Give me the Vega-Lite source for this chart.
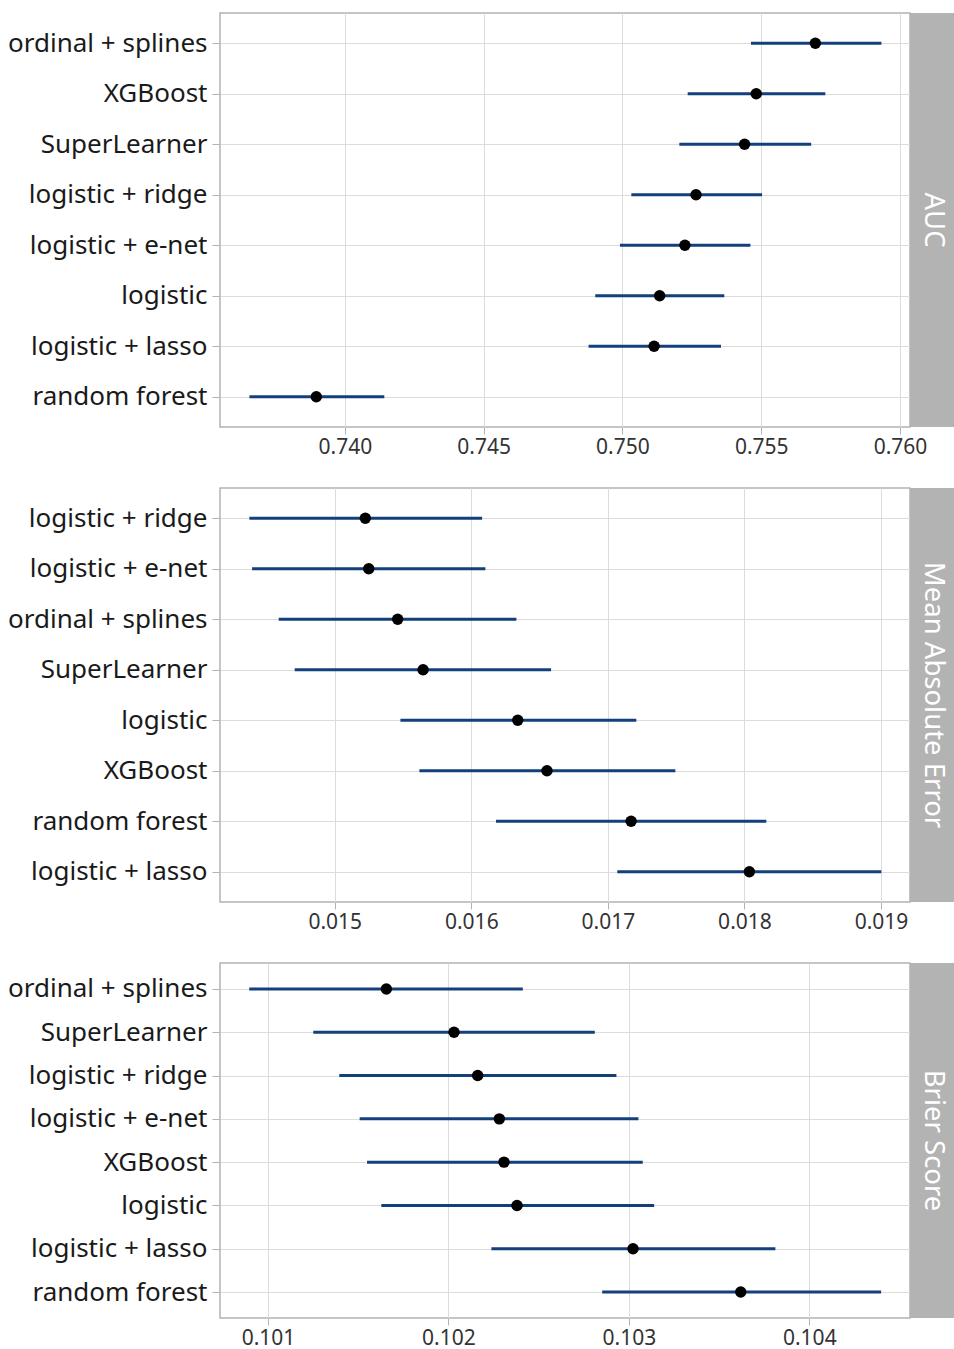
{
  "$schema": "https://vega.github.io/schema/vega-lite/v6.json",
  "padding": {"left": 6, "top": 12, "right": 0, "bottom": 0},
  "background": "white",
  "datasets": {
    "results": [
      {"metric": "AUC", "model": "ordinal + splines", "est": 0.75695, "lo": 0.75463, "hi": 0.75933},
      {"metric": "AUC", "model": "XGBoost", "est": 0.75482, "lo": 0.75235, "hi": 0.75731},
      {"metric": "AUC", "model": "SuperLearner", "est": 0.75440, "lo": 0.75205, "hi": 0.75680},
      {"metric": "AUC", "model": "logistic + ridge", "est": 0.75265, "lo": 0.75032, "hi": 0.75503},
      {"metric": "AUC", "model": "logistic + e-net", "est": 0.75225, "lo": 0.74991, "hi": 0.75461},
      {"metric": "AUC", "model": "logistic", "est": 0.75134, "lo": 0.74902, "hi": 0.75367},
      {"metric": "AUC", "model": "logistic + lasso", "est": 0.75114, "lo": 0.74878, "hi": 0.75355},
      {"metric": "AUC", "model": "random forest", "est": 0.73897, "lo": 0.73656, "hi": 0.74142},
      {"metric": "MAE", "model": "logistic + ridge", "est": 0.015224, "lo": 0.014375, "hi": 0.016079},
      {"metric": "MAE", "model": "logistic + e-net", "est": 0.015249, "lo": 0.014395, "hi": 0.016103},
      {"metric": "MAE", "model": "ordinal + splines", "est": 0.015461, "lo": 0.014590, "hi": 0.016330},
      {"metric": "MAE", "model": "SuperLearner", "est": 0.015647, "lo": 0.014707, "hi": 0.016584},
      {"metric": "MAE", "model": "logistic", "est": 0.016340, "lo": 0.015481, "hi": 0.017208},
      {"metric": "MAE", "model": "XGBoost", "est": 0.016554, "lo": 0.015620, "hi": 0.017494},
      {"metric": "MAE", "model": "random forest", "est": 0.017170, "lo": 0.016181, "hi": 0.018160},
      {"metric": "MAE", "model": "logistic + lasso", "est": 0.018036, "lo": 0.017069, "hi": 0.019002},
      {"metric": "Brier", "model": "ordinal + splines", "est": 0.101656, "lo": 0.100896, "hi": 0.102412},
      {"metric": "Brier", "model": "SuperLearner", "est": 0.102031, "lo": 0.101251, "hi": 0.102811},
      {"metric": "Brier", "model": "logistic + ridge", "est": 0.102162, "lo": 0.101395, "hi": 0.102931},
      {"metric": "Brier", "model": "logistic + e-net", "est": 0.102282, "lo": 0.101508, "hi": 0.103053},
      {"metric": "Brier", "model": "XGBoost", "est": 0.102308, "lo": 0.101549, "hi": 0.103077},
      {"metric": "Brier", "model": "logistic", "est": 0.102380, "lo": 0.101628, "hi": 0.103140},
      {"metric": "Brier", "model": "logistic + lasso", "est": 0.103023, "lo": 0.102238, "hi": 0.103812},
      {"metric": "Brier", "model": "random forest", "est": 0.103620, "lo": 0.102852, "hi": 0.104398}
    ]
  },
  "config": {
    "font": "Noto Sans",
    "view": {"stroke": "#b3b3b3", "strokeWidth": 1.5},
    "axis": {
      "domain": false,
      "grid": true,
      "gridColor": "#dcdcdc",
      "gridWidth": 1,
      "tickColor": "#b3b3b3",
      "tickSize": 7,
      "tickWidth": 1,
      "labelFont": "Noto Sans",
      "title": null
    },
    "axisX": {"labelFontSize": 21, "labelColor": "#333333", "labelPadding": 2, "minExtent": 30, "maxExtent": 30},
    "axisY": {"labelFontSize": 26, "labelColor": "#1a1a1a", "tickSize": 8, "labelPadding": 5, "minExtent": 212, "maxExtent": 212, "labelLimit": 300},
    "concat": {"spacing": 0}
  },
  "vconcat": [
    {
      "spacing": 0,
      "bounds": "flush",
      "hconcat": [
        {
          "width": 690,
          "height": 414,
          "data": {"name": "results"},
          "transform": [{"filter": "datum.metric === 'AUC'"}],
          "encoding": {
            "y": {"field": "model", "type": "nominal", "sort": ["ordinal + splines", "XGBoost", "SuperLearner", "logistic + ridge", "logistic + e-net", "logistic", "logistic + lasso", "random forest"], "scale": {"type": "point", "padding": 0.6}, "axis": {"title": null}}
          },
          "layer": [
            {"mark": {"type": "rule", "color": "#133f7b", "strokeWidth": 3}, "encoding": {"x": {"field": "lo", "type": "quantitative", "scale": {"domain": [0.7355, 0.76036], "nice": false, "zero": false}, "axis": {"values": [0.74, 0.745, 0.75, 0.755, 0.76], "format": ".3f", "title": null}}, "x2": {"field": "hi"}}},
            {"mark": {"type": "point", "filled": true, "color": "#000000", "opacity": 1, "size": 130}, "encoding": {"x": {"field": "est", "type": "quantitative"}}}
          ]
        },
        {
          "width": 46,
          "height": 414,
          "view": {"stroke": null},
          "data": {"values": [{"label": "AUC"}]},
          "layer": [
            {"mark": {"type": "rect", "color": "#b3b3b3"}},
            {"mark": {"type": "text", "angle": 90, "color": "#ffffff", "fontSize": 27.5, "align": "center", "baseline": "middle"}, "encoding": {"text": {"field": "label"}}}
          ]
        }
      ]
    },
    {
      "spacing": 0,
      "bounds": "flush",
      "hconcat": [
        {
          "width": 690,
          "height": 414,
          "data": {"name": "results"},
          "transform": [{"filter": "datum.metric === 'MAE'"}],
          "encoding": {
            "y": {"field": "model", "type": "nominal", "sort": ["logistic + ridge", "logistic + e-net", "ordinal + splines", "SuperLearner", "logistic", "XGBoost", "random forest", "logistic + lasso"], "scale": {"type": "point", "padding": 0.6}, "axis": {"title": null}}
          },
          "layer": [
            {"mark": {"type": "rule", "color": "#133f7b", "strokeWidth": 3}, "encoding": {"x": {"field": "lo", "type": "quantitative", "scale": {"domain": [0.01416, 0.019212], "nice": false, "zero": false}, "axis": {"values": [0.015, 0.016, 0.017, 0.018, 0.019], "format": ".3f", "title": null}}, "x2": {"field": "hi"}}},
            {"mark": {"type": "point", "filled": true, "color": "#000000", "opacity": 1, "size": 130}, "encoding": {"x": {"field": "est", "type": "quantitative"}}}
          ]
        },
        {
          "width": 46,
          "height": 414,
          "view": {"stroke": null},
          "data": {"values": [{"label": "Mean Absolute Error"}]},
          "layer": [
            {"mark": {"type": "rect", "color": "#b3b3b3"}},
            {"mark": {"type": "text", "angle": 90, "color": "#ffffff", "fontSize": 27.5, "align": "center", "baseline": "middle"}, "encoding": {"text": {"field": "label"}}}
          ]
        }
      ]
    },
    {
      "spacing": 0,
      "bounds": "flush",
      "hconcat": [
        {
          "width": 690,
          "height": 355,
          "data": {"name": "results"},
          "transform": [{"filter": "datum.metric === 'Brier'"}],
          "encoding": {
            "y": {"field": "model", "type": "nominal", "sort": ["ordinal + splines", "SuperLearner", "logistic + ridge", "logistic + e-net", "XGBoost", "logistic", "logistic + lasso", "random forest"], "scale": {"type": "point", "padding": 0.6}, "axis": {"title": null}}
          },
          "layer": [
            {"mark": {"type": "rule", "color": "#133f7b", "strokeWidth": 3}, "encoding": {"x": {"field": "lo", "type": "quantitative", "scale": {"domain": [0.100734, 0.104558], "nice": false, "zero": false}, "axis": {"values": [0.101, 0.102, 0.103, 0.104], "format": ".3f", "title": null}}, "x2": {"field": "hi"}}},
            {"mark": {"type": "point", "filled": true, "color": "#000000", "opacity": 1, "size": 130}, "encoding": {"x": {"field": "est", "type": "quantitative"}}}
          ]
        },
        {
          "width": 46,
          "height": 355,
          "view": {"stroke": null},
          "data": {"values": [{"label": "Brier Score"}]},
          "layer": [
            {"mark": {"type": "rect", "color": "#b3b3b3"}},
            {"mark": {"type": "text", "angle": 90, "color": "#ffffff", "fontSize": 27.5, "align": "center", "baseline": "middle"}, "encoding": {"text": {"field": "label"}}}
          ]
        }
      ]
    }
  ],
  "spacing": 29
}
